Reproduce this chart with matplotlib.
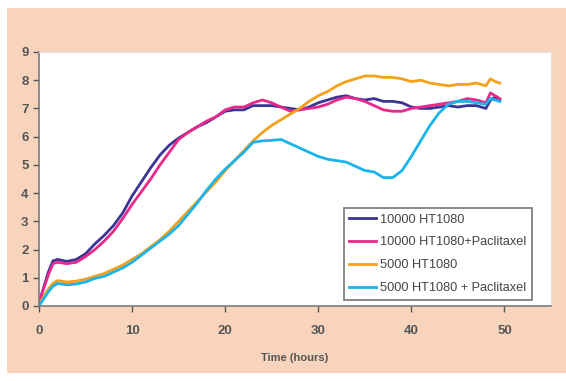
import matplotlib
matplotlib.use("Agg")
import matplotlib.pyplot as plt
from matplotlib.patches import Rectangle

# ---- data ----
t = [0, 1, 1.5, 2, 3, 4, 5, 6, 7, 8, 9, 10, 11, 12, 13, 14, 15, 16, 17, 18, 19,
     20, 21, 22, 23, 24, 25, 26, 27, 28, 29, 30, 31, 32, 33, 34, 35, 36, 37, 38,
     39, 40, 41, 42, 43, 44, 45, 46, 47, 48, 48.5, 49, 49.5]

ht10000 = [0.1, 1.2, 1.6, 1.65, 1.58, 1.65, 1.85, 2.2, 2.5, 2.85, 3.3, 3.9, 4.4,
           4.9, 5.35, 5.7, 5.95, 6.15, 6.35, 6.5, 6.7, 6.9, 6.95, 6.95, 7.1, 7.1,
           7.1, 7.05, 7.0, 6.95, 7.05, 7.2, 7.3, 7.4, 7.45, 7.35, 7.3, 7.35, 7.25,
           7.25, 7.2, 7.05, 7.0, 7.0, 7.05, 7.1, 7.05, 7.1, 7.1, 7.0, 7.3, 7.4, 7.3]

ht10000_pac = [0.15, 1.1, 1.5, 1.55, 1.5, 1.55, 1.75, 2.0, 2.3, 2.65, 3.1, 3.6,
               4.05, 4.5, 5.0, 5.45, 5.9, 6.15, 6.35, 6.55, 6.7, 6.95, 7.05, 7.05,
               7.2, 7.3, 7.2, 7.05, 6.9, 6.95, 7.0, 7.05, 7.15, 7.3, 7.4, 7.35,
               7.25, 7.1, 6.95, 6.9, 6.9, 7.0, 7.05, 7.1, 7.15, 7.2, 7.25, 7.35,
               7.3, 7.2, 7.55, 7.45, 7.35]

ht5000 = [0.05, 0.6, 0.8, 0.9, 0.85, 0.88, 0.95, 1.05, 1.15, 1.3, 1.45, 1.65,
          1.85, 2.1, 2.35, 2.65, 3.0, 3.35, 3.7, 4.05, 4.4, 4.8, 5.15, 5.5, 5.85,
          6.15, 6.4, 6.6, 6.8, 7.0, 7.25, 7.45, 7.6, 7.8, 7.95, 8.05, 8.15, 8.15,
          8.1, 8.1, 8.05, 7.95, 8.0, 7.9, 7.85, 7.8, 7.85, 7.85, 7.9, 7.8, 8.05,
          7.95, 7.9]

ht5000_pac = [0.0, 0.5, 0.7, 0.8, 0.75, 0.78, 0.85, 0.98, 1.05, 1.2, 1.35, 1.55,
              1.8, 2.05, 2.3, 2.55, 2.85, 3.25, 3.65, 4.1, 4.5, 4.85, 5.15, 5.45,
              5.8, 5.85, 5.87, 5.9, 5.75, 5.6, 5.45, 5.3, 5.2, 5.15, 5.1, 4.95,
              4.8, 4.75, 4.55, 4.55, 4.8, 5.3, 5.85, 6.4, 6.85, 7.15, 7.25, 7.25,
              7.2, 7.15, 7.35, 7.3, 7.25]

labels = ["10000 HT1080", "10000 HT1080+Paclitaxel", "5000 HT1080",
          "5000 HT1080 + Paclitaxel"]
colors = ["#3b3593", "#e8288a", "#f5a01a", "#1ab4ec"]
x_ticks = [0, 10, 20, 30, 40, 50]
y_ticks = [0, 1, 2, 3, 4, 5, 6, 7, 8, 9]
xlabel = "Time (hours)"

plt.rcParams['font.family'] = ['Liberation Sans', 'DejaVu Sans']

fig = plt.figure(figsize=(5.66, 3.81), dpi=100, facecolor="white")
bg = Rectangle((7 / 566, 8 / 381), 1 - 7 / 566, 1 - 16 / 381,
               transform=fig.transFigure, facecolor="#f8d4bd",
               edgecolor="none", zorder=-10)
fig.patches.append(bg)

ax = fig.add_axes([39 / 566, 1 - 306 / 381, 512 / 566, 254 / 381], zorder=1)
ax.set_facecolor("white")

for ys, lab, c in zip([ht10000, ht10000_pac, ht5000, ht5000_pac], labels, colors):
    ax.plot(t, ys, color=c, lw=2.0, label=lab)

ax.set_xlim(0, 55)
ax.set_ylim(0, 9)
ax.set_xticks(x_ticks)
ax.set_yticks(y_ticks)
ax.tick_params(axis="both", direction="out", colors="#555555", labelsize=9.5,
               length=4, width=1)
ax.tick_params(axis="x", pad=10)
for lbl in ax.get_xticklabels() + ax.get_yticklabels():
    lbl.set_fontweight("bold")
for side in ["left", "bottom"]:
    ax.spines[side].set_color("#7a7a7a")
    ax.spines[side].set_linewidth(1.2)
for side in ["top", "right"]:
    ax.spines[side].set_color("#e2e2e2")
    ax.spines[side].set_linewidth(1.0)

ax.set_xlabel(xlabel, fontsize=8, fontweight="bold", color="#555555", labelpad=11)

leg = ax.legend(loc="lower right", bbox_to_anchor=(0.963, 0.024), fontsize=9.2,
                frameon=True, fancybox=False, handlelength=2.1, handletextpad=0.3,
                borderpad=0.45, labelspacing=0.85, borderaxespad=0)
leg.get_frame().set_edgecolor("#555555")
leg.get_frame().set_linewidth(1.2)
for txt in leg.get_texts():
    txt.set_color("#444444")

fig.savefig("out.png", dpi=100, facecolor=fig.get_facecolor())
